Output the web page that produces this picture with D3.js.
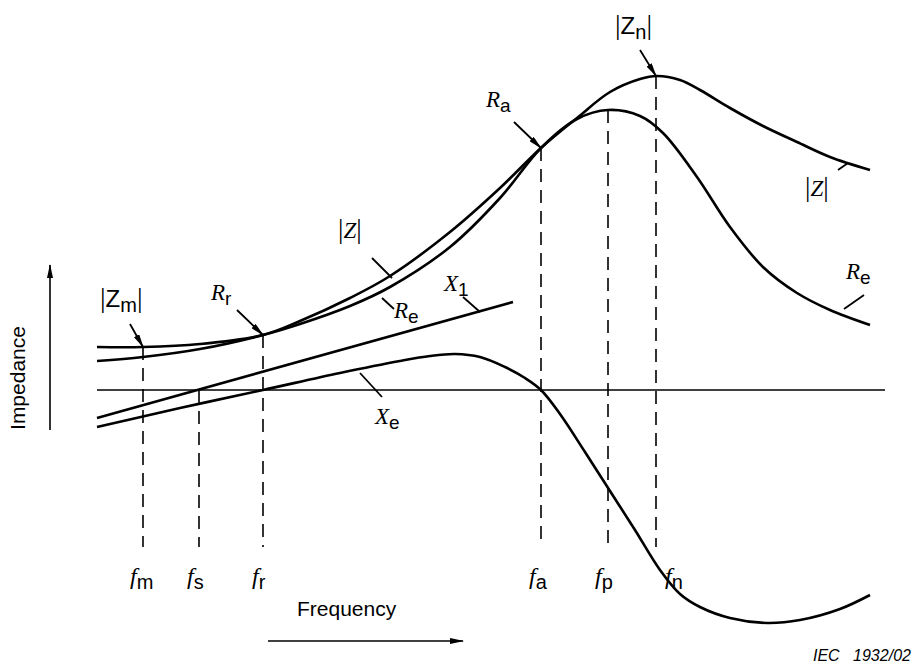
<!DOCTYPE html>
<html>
  <head>
    <meta charset="utf-8">
    <title>Impedance vs frequency</title>
    <style media="screen">
    body{margin: 0; background: #fff}
    svg {display: block}
    .curve {fill: none; stroke: #000; stroke-width: 2.6}
    .dash {fill: none; stroke: #000; stroke-width: 1.6; stroke-dasharray: 13 8}
    </style>
  </head>
  <body>
    <script src="https://cdn.jsdelivr.net/npm/d3@7"></script>
    <script type="text/javascript">
      // values; frequency and impedance in arbitrary units
      var zMag = [[0,43],[46,43],[103,46],[166,55],[203,69],[253,92],[293,114],[353,158],[403,202],[444,242],[480,272],[513,298],[543,311],[560,314],[583,310],[603,300],[633,282],[666,264],[700,248],[733,233],[773,220]]
      var rE = [[0,29],[46,33],[103,41],[166,55],[203,66],[253,84],[293,103],[353,143],[403,192],[444,242],[480,271],[511,280],[543,274],[566,257],[600,213],[633,163],[666,123],[700,97],[733,80],[773,65]]
      var x1 = [[0,-28],[416,88]]
      var xE = [[0,-37],[83,-18],[166,0],[243,17],[303,29],[333,34],[358,36],[383,33],[408,23],[428,12],[444,0],[463,-24],[488,-62],[513,-101],[538,-140],[563,-180],[583,-204],[603,-217],[633,-228],[670,-233],[703,-230],[743,-219],[773,-205]]

      var freqNames = ['m','s','r','a','p','n']
      var freqs = [46, 102, 166, 444, 511, 559]
      // where each dashed line starts (impedance value at top)
      var freqTops = [43, 0, 55, 242, 280, 314]

      var w = 913, h = 670
      var SERIF = "'Liberation Serif', 'Times New Roman', serif"
      var SANS = "'Liberation Sans', Arial, sans-serif"

      var x = d3.scaleLinear().domain([0, 800]).range([97, 897])
      var y = d3.scaleLinear().domain([-250, 330]).range([640, 60])

      var svg = d3.select('body').append('svg')
        .attr('width', w)
        .attr('height', h)

      var defs = svg.append('defs')
      defs.append('marker')
        .attr('id', 'head')
        .attr('viewBox', '0 0 14 6')
        .attr('refX', 13).attr('refY', 3)
        .attr('markerWidth', 14).attr('markerHeight', 6)
        .attr('markerUnits', 'userSpaceOnUse')
        .attr('orient', 'auto')
        .append('path').attr('d', 'M0,0 L14,3 L0,6 Z').attr('fill', '#000')

      var line = d3.line()
        .x(function(d){ return x(d[0]) })
        .y(function(d){ return y(d[1]) })
        .curve(d3.curveCatmullRom.alpha(0.5))

      // zero line
      svg.append('line')
        .attr('x1', x(0)).attr('x2', x(788))
        .attr('y1', y(0)).attr('y2', y(0))
        .attr('stroke', '#000').attr('stroke-width', 1.6)

      // dashed frequency markers
      svg.selectAll('.dash')
        .data(freqs)
        .enter().append('line')
          .attr('class', 'dash')
          .attr('x1', function(d){ return x(d) })
          .attr('x2', function(d){ return x(d) })
          .attr('y1', function(d, i){ return y(freqTops[i]) })
          .attr('y2', y(-157))

      ;[zMag, rE, x1, xE].forEach(function(s){
        svg.append('path').attr('class', 'curve').attr('d', line(s))
      })

      // label helper: parts are [text, kind]
      function label(px, py, parts, size){
        size = size || 23
        var t = svg.append('text').attr('x', px).attr('y', py).style('font-size', size + 'px')
        var down = 0
        parts.forEach(function(p){
          var s = t.append('tspan').text(p[0])
          if(p[1] == 'i'){
            s.style('font-family', SERIF).style('font-style', 'italic')
          } else if(p[1] == 'bar'){
            s.style('font-family', SERIF).style('font-size', (size + 4) + 'px')
          } else {
            s.style('font-family', SANS)
          }
          var want = p[1] == 'sub' ? 5 : 0
          if(want != down){ s.attr('dy', want - down); down = want }
          if(p[1] == 'sub') s.style('font-size', (size - 4) + 'px')
        })
        return t
      }

      function tick(x1p, y1p, x2p, y2p, arrow){
        var l = svg.append('line')
          .attr('x1', x1p).attr('y1', y1p).attr('x2', x2p).attr('y2', y2p)
          .attr('stroke', '#000').attr('stroke-width', 1.8)
        if(arrow) l.attr('marker-end', 'url(#head)')
      }

      // frequency labels under dashed lines
      var fOff = [-13, -12, -11, -12, -13, 9]
      freqs.forEach(function(f, i){
        label(x(f) + fOff[i], 584, [['f', 'i'], [freqNames[i], 'sub']], 24)
      })

      // curve annotations
      label(100, 307, [['|', 'bar'], ['Z', 's'], ['m', 'sub'], ['|', 'bar']], 24)
      tick(130, 324, x(freqs[0]), y(freqTops[0]), true)

      label(211, 300, [['R', 'i'], ['r', 'sub']])
      tick(237, 310, x(freqs[2]), y(freqTops[2]), true)

      label(486, 107, [['R', 'i'], ['a', 'sub']])
      tick(514, 122, x(freqs[3]), y(freqTops[3]), true)

      label(615, 34, [['|', 'bar'], ['Z', 's'], ['n', 'sub'], ['|', 'bar']], 24)
      tick(640, 50, x(freqs[5]), y(freqTops[5]), true)

      label(338, 238, [['|', 'bar'], ['Z', 'i'], ['|', 'bar']])
      tick(372, 258, 392, 278)

      label(394, 318, [['R', 'i'], ['e', 'sub']])
      tick(382, 298, 394, 309)

      label(444, 291, [['X', 'i'], ['1', 'sub']])
      tick(463, 297, 480, 312)

      label(375, 424, [['X', 'i'], ['e', 'sub']])
      tick(360, 373, 382, 397)

      label(805, 196, [['|', 'bar'], ['Z', 'i'], ['|', 'bar']])
      tick(838, 170, 848, 163)

      label(846, 279, [['R', 'i'], ['e', 'sub']])
      tick(844, 309, 864, 295)

      // axis titles and arrows
      svg.append('text')
        .attr('transform', 'translate(25,378) rotate(-90)')
        .attr('text-anchor', 'middle')
        .style('font-family', SANS)
        .style('font-size', '21px')
        .text('Impedance')
      svg.append('line')
        .attr('x1', 50).attr('y1', 430).attr('x2', 50).attr('y2', 265)
        .attr('stroke', '#000').attr('stroke-width', 1.6)
        .attr('marker-end', 'url(#head)')

      svg.append('text')
        .attr('x', 297).attr('y', 616)
        .style('font-family', SANS)
        .style('font-size', '21px')
        .text('Frequency')
      svg.append('line')
        .attr('x1', 268).attr('y1', 641).attr('x2', 463).attr('y2', 641)
        .attr('stroke', '#000').attr('stroke-width', 1.6)
        .attr('marker-end', 'url(#head)')

      var src = svg.append('g')
        .style('font-family', SANS)
        .style('font-style', 'italic')
        .style('font-size', '16px')
      src.append('text').attr('x', 813).attr('y', 661).text('IEC')
      src.append('text').attr('x', 853).attr('y', 661).attr('textLength', 58).text('1932/02')
    </script>
  </body>
</html>
